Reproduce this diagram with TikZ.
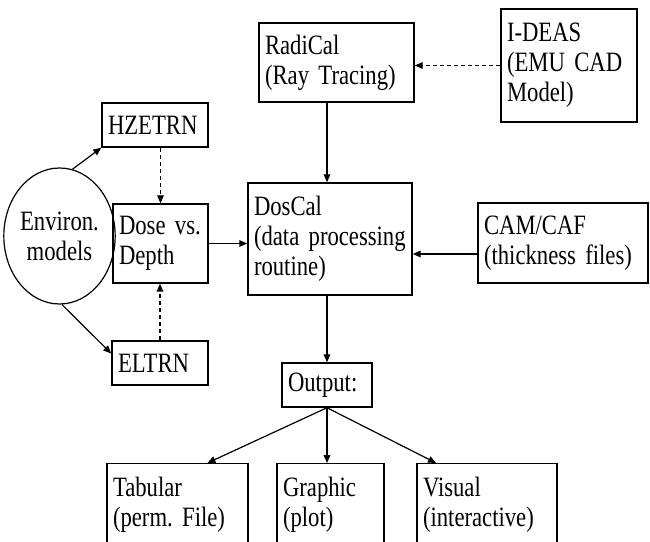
\documentclass[tikz,border=0pt]{standalone}
\usepackage{fontspec}
\setmainfont{Liberation Serif}[FakeStretch=0.81,WordSpace=0.81]
\usetikzlibrary{shapes.geometric,arrows.meta,calc}

\tikzset{every picture/.style={line width=0.9pt}}
\tikzset{
	txt/.style={font=\fontsize{21}{22.5}\selectfont\frenchspacing},
	box/.style={txt, draw, line width=1.1pt, rectangle, align=left, inner xsep=4.5pt},
	cutbox/.style={box, anchor=north, inner ysep=10pt, text depth=60pt},
	arr/.style={-{Triangle[length=6pt,width=5pt]}},
	dasharr/.style={arr, dash pattern=on 3pt off 2.25pt}}

\begin{document}
\begin{tikzpicture}[x=0.75pt,y=0.75pt,yscale=-1,xscale=1]
	\useasboundingbox (0,0) rectangle (650,542);
	\clip (0,0) rectangle (650,542);

	%Shape: Ellipse
	\node [txt, ellipse, draw, minimum width=71.25pt, minimum height=102pt, inner sep=0pt, align=center] (env) at (59.5,236) {Environ.\\models};
	%Shape: Rectangle
	\node [box, text width=70.5pt, minimum height=33pt] (hzetrn) at (155,125) {HZETRN};
	\node [box, text width=62.25pt, minimum height=59.25pt] (dose) at (160.5,243.5) {Dose vs.\\Depth};
	\node [box, text width=63pt, minimum height=33pt] (eltrn) at (160,363) {ELTRN};
	\node [box, text width=107.25pt, minimum height=59.25pt] (radical) at (336.5,62.5) {RadiCal\\(Ray Tracing)};
	\node [box, text width=93pt, minimum height=84.75pt] (ideas) at (569,65.5) {I-DEAS\\(EMU CAD\\Model)};
	\node [box, text width=114pt, minimum height=84pt] (doscal) at (330,239) {DosCal\\(data processing\\routine)};
	\node [box, text width=118.5pt, minimum height=60pt] (camcaf) at (563,243) {CAM/CAF\\(thickness files)};
	\node [box, text width=58.5pt, minimum height=33pt] (output) at (327,385) {Output:};
	%Shape: Rectangle (cut by the lower edge)
	\node [cutbox, text width=96.75pt] (tabular) at (177.5,463) {Tabular\\(perm. File)};
	\node [cutbox, text width=71.25pt] (graphic) at (330.5,463) {Graphic\\(plot)};
	\node [cutbox, text width=96pt] (visual) at (487,463) {Visual\\(interactive)};

	% Left branch
	\draw [arr] (env.79) -- (hzetrn.south west);
	\draw [arr] (env.-88) -- (eltrn.169);
	\draw [dasharr] (hzetrn.south -| dose.north) -- (dose.north);
	\draw [dasharr] (eltrn.north) -- (eltrn.north |- dose.south);
	\draw [arr] (dose.east) -- (dose.east -| doscal.west);

	% Inputs of DosCal
	\draw [dasharr] (ideas.west) -- (ideas.west -| radical.east);
	\draw [arr] (radical.south -| output.north) -- (doscal.north -| output.north);
	\draw [arr] ([yshift=8.25pt]camcaf.west) -- ([yshift=8.25pt]camcaf.west -| doscal.east);

	% Output
	\draw [arr] (doscal.south -| output.north) -- (output.north);
	\draw [arr] (output.south) -- ($(tabular.north west)!0.71!(tabular.north east)$);
	\draw [arr] (output.south) -- (output.south |- graphic.north);
	\draw [arr] (output.south) -- ($(visual.north west)!0.14!(visual.north east)$);

\end{tikzpicture}
\end{document}
